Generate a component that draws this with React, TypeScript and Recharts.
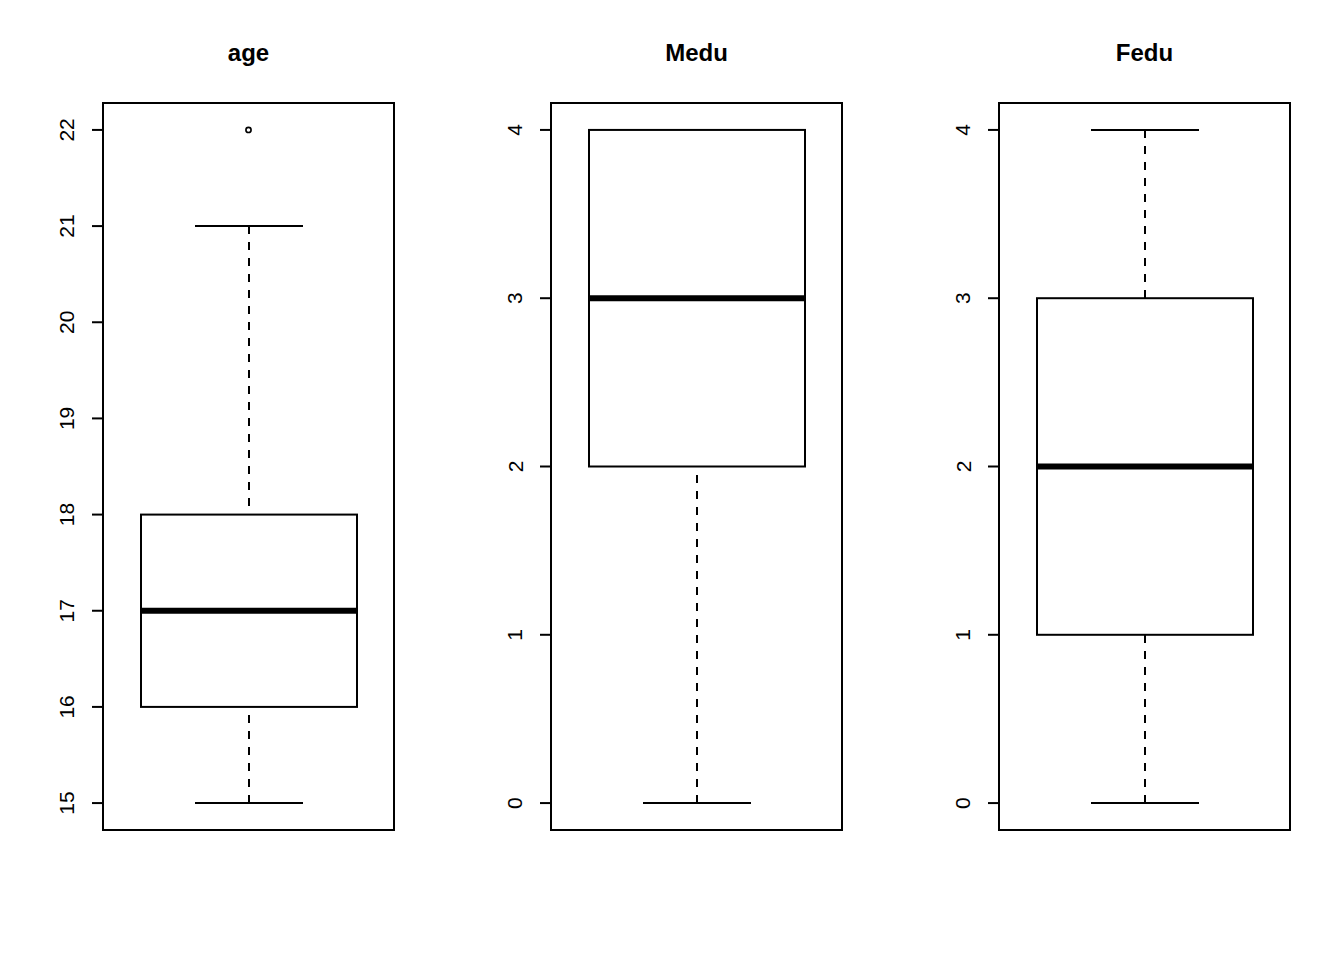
import React from 'react'
import {
  ComposedChart, Bar, Scatter, XAxis, YAxis, ReferenceArea
} from 'recharts'

const CATEGORIES = ['age', 'Medu', 'Fedu']
const LOWER_WHISKER = [15, 0, 0]
const Q1 = [16, 2, 1]
const MEDIAN = [17, 3, 2]
const Q3 = [18, 4, 3]
const UPPER_WHISKER = [21, 4, 4]
const OUTLIERS: (number | null)[] = [22, null, null]
const Y_TICKS = [
  [15, 16, 17, 18, 19, 20, 21, 22],
  [0, 1, 2, 3, 4],
  [0, 1, 2, 3, 4],
]
const Y_DOMAINS: [number, number][] = [
  [14.72, 22.28],
  [-0.16, 4.16],
  [-0.16, 4.16],
]

const FONT = '"Liberation Sans", Arial, Helvetica, sans-serif'
const PANEL_W = 448
const PANEL_H = 960

function BoxShape(props: any) {
  const { x, y, width, height, payload } = props
  const { lo, q1, med, q3, hi } = payload
  const k = height / (hi - lo)
  const py = (v: number) => y + (hi - v) * k
  const cx = x + width / 2
  const cap = width / 4
  const line = { stroke: '#000', strokeWidth: 2, strokeLinecap: 'butt' as const }
  return (
    <g>
      <line x1={cx} y1={py(lo)} x2={cx} y2={py(q1)} strokeDasharray="8 8" {...line} />
      <line x1={cx} y1={py(hi)} x2={cx} y2={py(q3)} strokeDasharray="8 8" {...line} />
      <line x1={cx - cap} y1={py(lo)} x2={cx + cap} y2={py(lo)} {...line} />
      <line x1={cx - cap} y1={py(hi)} x2={cx + cap} y2={py(hi)} {...line} />
      <rect x={x} y={py(q3)} width={width} height={py(q1) - py(q3)} fill="#fff" {...line} />
      <line x1={x} y1={py(med)} x2={x + width} y2={py(med)} stroke="#000" strokeWidth={6} />
    </g>
  )
}

function YTick(props: any) {
  const { y, payload } = props
  return (
    <text
      x={67}
      y={y}
      transform={`rotate(-90 67 ${y})`}
      textAnchor="middle"
      dominantBaseline="central"
      fontSize={21}
      fontFamily={FONT}
      fill="#000"
    >
      {payload.value}
    </text>
  )
}

function Panel({ i }: { i: number }) {
  const data = [{
    name: CATEGORIES[i],
    lo: LOWER_WHISKER[i],
    q1: Q1[i],
    med: MEDIAN[i],
    q3: Q3[i],
    hi: UPPER_WHISKER[i],
    out: OUTLIERS[i],
  }]
  return (
    <div style={{ position: 'absolute', left: i * PANEL_W, top: 0, width: PANEL_W, height: PANEL_H }}>
      <div
        style={{
          position: 'absolute', left: 103, width: 291, top: 41,
          textAlign: 'center', fontFamily: FONT, fontWeight: 'bold',
          fontSize: 24, lineHeight: '24px', color: '#000',
        }}
      >
        {CATEGORIES[i]}
      </div>
      <ComposedChart
        width={PANEL_W}
        height={PANEL_H}
        data={data}
        margin={{ top: 103, bottom: 130, left: 43, right: 54 }}
      >
        <XAxis dataKey="name" type="category" hide />
        <YAxis
          type="number"
          domain={Y_DOMAINS[i]}
          ticks={Y_TICKS[i]}
          width={60}
          axisLine={false}
          tickSize={11}
          tickLine={{ stroke: '#000', strokeWidth: 2 }}
          tick={<YTick />}
          allowDataOverflow
        />
        <Bar
          dataKey={(d: any) => [d.lo, d.hi]}
          barSize={216}
          shape={<BoxShape />}
          isAnimationActive={false}
        />
        {OUTLIERS[i] !== null && (
          <Scatter
            dataKey="out"
            isAnimationActive={false}
            shape={(p: any) => (
              <circle cx={p.cx} cy={p.cy} r={2.6} fill="#fff" stroke="#000" strokeWidth={1.6} />
            )}
          />
        )}
        <ReferenceArea
          y1={Y_DOMAINS[i][0]}
          y2={Y_DOMAINS[i][1]}
          fill="none"
          fillOpacity={0}
          stroke="#000"
          strokeWidth={2}
          strokeOpacity={1}
          ifOverflow="visible"
        />
      </ComposedChart>
    </div>
  )
}

export default function App() {
  return (
    <div style={{ position: 'absolute', left: 0, top: 0, width: 1344, height: 960, background: '#fff' }}>
      {CATEGORIES.map((_, i) => (
        <Panel key={i} i={i} />
      ))}
    </div>
  )
}
